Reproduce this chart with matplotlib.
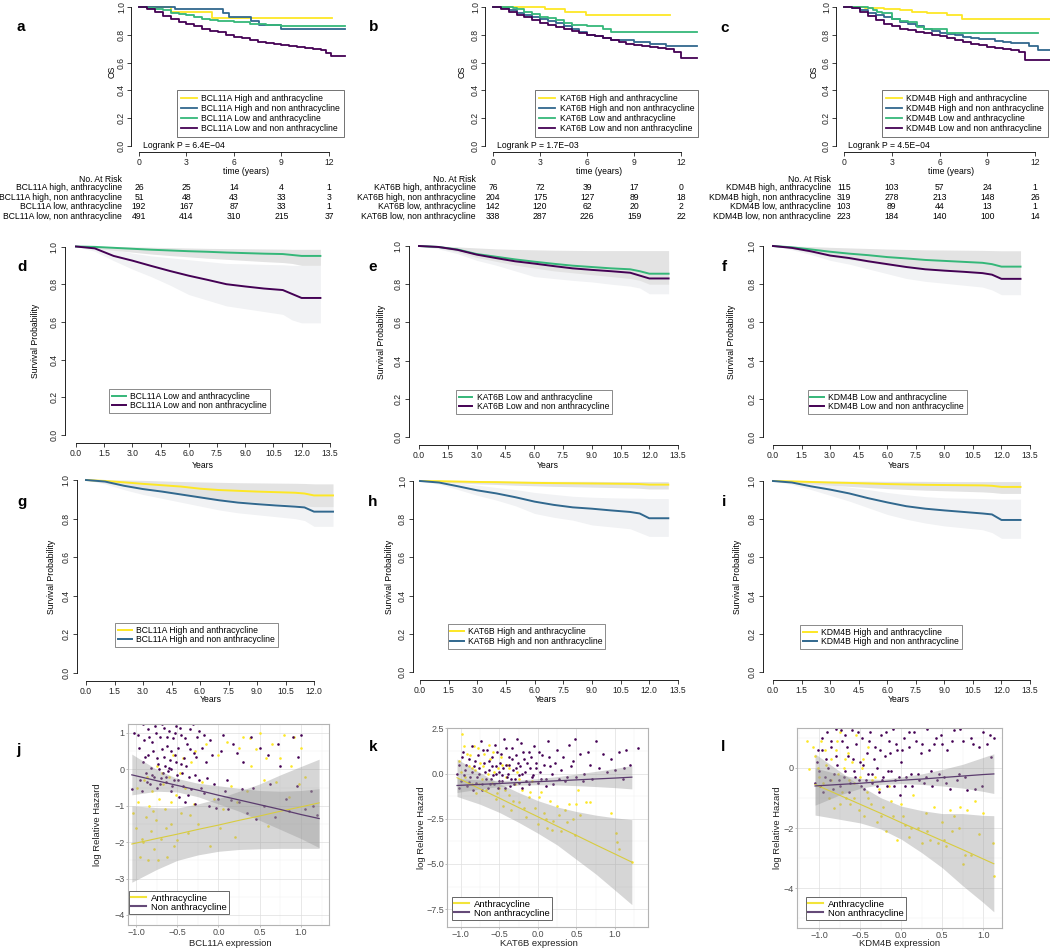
import matplotlib.pyplot as plt
from matplotlib.lines import Line2D
from matplotlib.ticker import AutoMinorLocator
from matplotlib.transforms import blended_transform_factory

plt.rcParams['font.family'] = ['Liberation Sans', 'DejaVu Sans']

W, H = 1050, 948
YEL, BLU, GRN, PUR = '#FDE725', '#31688E', '#35B779', '#440154'

# ---------------- a-c : KM curves, 4 groups per gene (step times, survival)
genes = ['BCL11A', 'KAT6B', 'KDM4B']
logrank_p = ['6.4E\u221204', '1.7E\u221203', '4.5E\u221204']
risk_years = [0, 3, 6, 9, 12]

bcl_hi_anth_t = [0, 2.0, 4.6, 12.2]
bcl_hi_anth_s = [1.0, 0.964, 0.918, 0.918]
bcl_hi_non_t = [0, 2.3, 5.3, 5.7, 7.1, 7.6, 9.0, 13.0]
bcl_hi_non_s = [1.0, 0.985, 0.96, 0.93, 0.90, 0.87, 0.84, 0.84]
bcl_lo_anth_t = [0, 0.5, 1, 1.5, 2, 2.5, 3, 3.5, 4, 4.5, 5, 6, 7, 8, 9, 13]
bcl_lo_anth_s = [1, 0.995, 0.985, 0.975, 0.96, 0.95, 0.94, 0.93, 0.915, 0.905, 0.90, 0.893, 0.878, 0.87, 0.863, 0.863]
bcl_lo_non_t = [0, 0.5, 1, 1.5, 2, 2.5, 3, 3.5, 4, 4.5, 5, 5.5, 6, 6.5, 7, 7.5, 8, 8.5, 9, 9.5, 10, 10.5, 11, 11.5, 11.8, 12.1, 13]
bcl_lo_non_s = [1.0, 0.985, 0.962, 0.935, 0.911, 0.893, 0.877, 0.86, 0.844, 0.83, 0.817, 0.80, 0.786, 0.774,
                0.762, 0.75, 0.738, 0.732, 0.726, 0.718, 0.711, 0.704, 0.697, 0.69, 0.666, 0.645, 0.645]

kat_hi_anth_t = [0, 3.3, 4.6, 5.9, 11.3]
kat_hi_anth_s = [1, 0.985, 0.965, 0.945, 0.945]
kat_hi_non_t = [0, 0.5, 1, 1.5, 2, 2.5, 3, 3.5, 4, 4.5, 5, 5.5, 6, 6.5, 7, 7.5, 8, 9, 10, 11, 13]
kat_hi_non_s = [1, 0.99, 0.975, 0.955, 0.94, 0.925, 0.913, 0.9, 0.885, 0.865, 0.845, 0.82, 0.80, 0.79, 0.775,
                0.765, 0.76, 0.75, 0.735, 0.72, 0.72]
kat_lo_anth_t = [0, 1.3, 1.5, 2, 2.5, 3, 3.5, 4, 4.5, 5, 6, 7, 7.5, 13]
kat_lo_anth_s = [1, 0.995, 0.985, 0.965, 0.95, 0.925, 0.92, 0.91, 0.882, 0.87, 0.865, 0.845, 0.82, 0.82]
kat_lo_non_t = [0, 0.5, 1, 1.5, 2, 2.5, 3, 3.5, 4, 4.5, 5, 5.5, 6, 6.5, 7, 7.5, 8, 8.5, 9, 9.5, 10, 10.5, 11, 11.5, 12, 13]
kat_lo_non_s = [1, 0.985, 0.965, 0.945, 0.925, 0.905, 0.887, 0.87, 0.855, 0.84, 0.825, 0.812, 0.80, 0.788, 0.775,
                0.76, 0.745, 0.735, 0.726, 0.72, 0.71, 0.705, 0.70, 0.675, 0.632, 0.632]

kdm_hi_anth_t = [0, 1.3, 2.5, 3.5, 4.3, 5.2, 6.5, 7.4, 13]
kdm_hi_anth_s = [1, 0.99, 0.985, 0.975, 0.965, 0.955, 0.94, 0.915, 0.915]
kdm_hi_non_t = [0, 0.5, 1, 1.5, 2, 2.5, 3, 3.5, 4, 4.5, 5, 5.5, 6, 6.5, 7, 7.5, 8, 8.5, 9, 9.5, 10, 10.5, 11, 11.6, 12.2, 13]
kdm_hi_non_s = [1, 0.99, 0.975, 0.955, 0.94, 0.925, 0.911, 0.895, 0.88, 0.862, 0.845, 0.83, 0.815, 0.807, 0.80,
                0.785, 0.775, 0.77, 0.767, 0.757, 0.748, 0.742, 0.738, 0.72, 0.69, 0.69]
kdm_lo_anth_t = [0, 1.5, 1.8, 2.1, 2.4, 3.0, 3.5, 4.0, 4.56, 5.0, 6.5, 12.2]
kdm_lo_anth_s = [1, 0.99, 0.975, 0.965, 0.954, 0.911, 0.9, 0.89, 0.858, 0.845, 0.81, 0.81]
kdm_lo_non_t = [0, 0.5, 1, 1.5, 2, 2.5, 3, 3.5, 4, 4.5, 5, 5.5, 6, 6.5, 7, 7.5, 8, 8.5, 9, 9.5, 10, 10.5, 11, 11.4, 13]
kdm_lo_non_s = [1, 0.99, 0.966, 0.935, 0.905, 0.88, 0.86, 0.845, 0.835, 0.82, 0.81, 0.80, 0.79, 0.778, 0.765,
                0.75, 0.735, 0.725, 0.715, 0.708, 0.70, 0.69, 0.678, 0.618, 0.618]

bcl_risk = [[26, 25, 14, 4, 1], [51, 48, 43, 33, 3], [192, 167, 87, 33, 1], [491, 414, 310, 215, 37]]
kat_risk = [[76, 72, 39, 17, 0], [204, 175, 127, 89, 18], [142, 120, 62, 20, 2], [338, 287, 226, 159, 22]]
kdm_risk = [[115, 103, 57, 24, 1], [319, 278, 213, 148, 26], [103, 89, 44, 13, 1], [223, 184, 140, 100, 14]]

# ---------------- d-i : two-group KM curves with confidence bands
km_years = [0, 1, 2, 3, 4, 5, 6, 7, 8, 9, 10, 11, 11.5, 12, 13]

d_anth = [1, 0.998, 0.993, 0.988, 0.983, 0.979, 0.975, 0.972, 0.968, 0.965, 0.962, 0.96, 0.955, 0.95, 0.95]
d_anth_lo = [1, 0.99, 0.98, 0.97, 0.96, 0.952, 0.945, 0.938, 0.932, 0.926, 0.92, 0.915, 0.91, 0.90, 0.90]
d_anth_hi = [1, 1, 1, 0.998, 0.996, 0.994, 0.992, 0.99, 0.989, 0.988, 0.987, 0.986, 0.985, 0.985, 0.985]
d_non = [1, 0.99, 0.95, 0.925, 0.897, 0.87, 0.845, 0.823, 0.80, 0.788, 0.777, 0.769, 0.748, 0.727, 0.727]
d_non_lo = [1, 0.975, 0.925, 0.88, 0.84, 0.795, 0.745, 0.715, 0.685, 0.67, 0.655, 0.64, 0.61, 0.595, 0.595]
d_non_hi = [1, 1, 0.985, 0.965, 0.95, 0.94, 0.93, 0.92, 0.91, 0.908, 0.905, 0.903, 0.90, 0.90, 0.90]

e_anth = [1, 0.995, 0.982, 0.958, 0.944, 0.93, 0.918, 0.907, 0.897, 0.89, 0.883, 0.878, 0.868, 0.855, 0.855]
e_anth_lo = [1, 0.99, 0.97, 0.94, 0.92, 0.9, 0.885, 0.87, 0.86, 0.85, 0.84, 0.83, 0.82, 0.80, 0.80]
e_anth_hi = [1, 1, 0.995, 0.99, 0.985, 0.982, 0.98, 0.978, 0.977, 0.976, 0.976, 0.976, 0.976, 0.976, 0.976]
e_non = [1, 0.995, 0.98, 0.955, 0.937, 0.92, 0.908, 0.895, 0.883, 0.875, 0.868, 0.86, 0.845, 0.83, 0.83]
e_non_lo = [1, 0.985, 0.96, 0.925, 0.9, 0.87, 0.84, 0.83, 0.82, 0.812, 0.80, 0.79, 0.78, 0.75, 0.75]
e_non_hi = [1, 1, 0.995, 0.985, 0.975, 0.965, 0.96, 0.955, 0.95, 0.945, 0.94, 0.935, 0.93, 0.92, 0.92]

f_anth = [1, 0.993, 0.982, 0.97, 0.96, 0.952, 0.942, 0.935, 0.927, 0.922, 0.917, 0.912, 0.905, 0.892, 0.892]
f_anth_lo = [1, 0.985, 0.965, 0.945, 0.93, 0.915, 0.9, 0.89, 0.88, 0.87, 0.865, 0.86, 0.85, 0.835, 0.835]
f_anth_hi = [1, 1, 0.997, 0.993, 0.99, 0.987, 0.984, 0.982, 0.98, 0.979, 0.978, 0.977, 0.976, 0.975, 0.975]
f_non = [1, 0.99, 0.972, 0.95, 0.937, 0.92, 0.905, 0.89, 0.878, 0.871, 0.865, 0.858, 0.85, 0.828, 0.828]
f_non_lo = [1, 0.98, 0.955, 0.925, 0.905, 0.88, 0.855, 0.83, 0.815, 0.805, 0.795, 0.785, 0.77, 0.745, 0.745]
f_non_hi = [1, 1, 0.99, 0.975, 0.965, 0.955, 0.945, 0.935, 0.93, 0.925, 0.92, 0.918, 0.915, 0.91, 0.91]

g_anth = [1, 0.995, 0.988, 0.98, 0.973, 0.966, 0.955, 0.948, 0.944, 0.94, 0.937, 0.934, 0.93, 0.92, 0.92]
g_anth_lo = [1, 0.985, 0.97, 0.955, 0.94, 0.925, 0.91, 0.9, 0.892, 0.885, 0.878, 0.872, 0.866, 0.862, 0.862]
g_anth_hi = [1, 1, 1, 0.998, 0.995, 0.992, 0.99, 0.988, 0.986, 0.985, 0.984, 0.983, 0.982, 0.98, 0.98]
g_non = [1, 0.992, 0.97, 0.953, 0.94, 0.925, 0.91, 0.895, 0.883, 0.875, 0.868, 0.862, 0.858, 0.836, 0.836]
g_non_lo = [1, 0.98, 0.95, 0.925, 0.905, 0.885, 0.865, 0.845, 0.83, 0.82, 0.81, 0.80, 0.79, 0.76, 0.76]
g_non_hi = [1, 1, 0.99, 0.98, 0.972, 0.965, 0.955, 0.945, 0.935, 0.93, 0.925, 0.92, 0.918, 0.91, 0.91]

h_anth = [1, 0.999, 0.997, 0.995, 0.994, 0.992, 0.99, 0.989, 0.988, 0.987, 0.986, 0.985, 0.984, 0.981, 0.981]
h_anth_lo = [1, 0.995, 0.99, 0.985, 0.982, 0.978, 0.975, 0.972, 0.97, 0.968, 0.966, 0.964, 0.962, 0.958, 0.958]
h_anth_hi = [1, 1, 1, 1, 1, 0.999, 0.999, 0.998, 0.998, 0.998, 0.997, 0.997, 0.997, 0.997, 0.997]
h_non = [1, 0.992, 0.972, 0.951, 0.935, 0.915, 0.892, 0.875, 0.862, 0.855, 0.846, 0.838, 0.83, 0.805, 0.805]
h_non_lo = [1, 0.983, 0.955, 0.925, 0.9, 0.87, 0.83, 0.81, 0.795, 0.77, 0.76, 0.75, 0.73, 0.71, 0.71]
h_non_hi = [1, 1, 0.99, 0.978, 0.966, 0.955, 0.94, 0.93, 0.92, 0.915, 0.912, 0.91, 0.91, 0.908, 0.908]

i_anth = [1, 0.998, 0.995, 0.992, 0.99, 0.987, 0.984, 0.982, 0.98, 0.979, 0.978, 0.977, 0.975, 0.969, 0.969]
i_anth_lo = [1, 0.993, 0.985, 0.978, 0.972, 0.966, 0.96, 0.956, 0.952, 0.949, 0.946, 0.943, 0.94, 0.935, 0.935]
i_anth_hi = [1, 1, 1, 1, 0.999, 0.999, 0.998, 0.998, 0.998, 0.997, 0.997, 0.997, 0.997, 0.997, 0.997]
i_non = [1, 0.992, 0.972, 0.955, 0.935, 0.91, 0.888, 0.868, 0.855, 0.846, 0.838, 0.83, 0.825, 0.796, 0.796]
i_non_lo = [1, 0.982, 0.955, 0.925, 0.895, 0.86, 0.825, 0.8, 0.78, 0.765, 0.755, 0.745, 0.73, 0.70, 0.70]
i_non_hi = [1, 1, 0.99, 0.98, 0.968, 0.955, 0.94, 0.928, 0.918, 0.912, 0.91, 0.908, 0.906, 0.905, 0.905]

# ---------------- j-l : log relative hazard vs expression (expression, log hazard)
j_anth = [(-1.03, -1.2), (-1.0, -1.6), (-0.97, -0.9), (-0.95, -2.4), (-0.93, -1.9), (-0.9, -0.3), (-0.88, -1.3),
          (-0.86, -2.5), (-0.84, -1.0), (-0.82, -1.7), (-0.8, -0.6), (-0.78, -2.2), (-0.76, -1.4), (-0.74, 0.1),
          (-0.72, -0.8), (-0.7, -1.9), (-0.67, -0.4), (-0.65, -1.1), (-0.62, -2.4), (-0.6, -0.2), (-0.57, -1.5),
          (-0.55, 0.4), (-0.52, -0.7), (-0.5, -1.95), (-0.47, -0.1), (-0.45, -1.2), (-0.4, -0.5), (-0.37, -1.75),
          (-0.33, 0.2), (-0.3, -0.95), (-0.25, -1.5), (-0.2, -0.35), (-0.15, 0.7), (-0.1, -2.1), (-0.05, -0.8),
          (0.0, 0.4), (0.05, -1.1), (0.1, 0.75), (0.15, -0.45), (0.2, -1.85), (0.25, 0.6), (0.3, 0.9), (0.35, -0.6),
          (0.4, 0.1), (0.45, 0.55), (0.5, 1.0), (0.55, -0.3), (0.6, -1.55), (0.65, 0.7), (0.75, 0.3), (0.85, -0.75),
          (0.92, 0.9), (1.0, 0.6), (1.05, -0.2), (-0.99, -0.5), (-0.91, -2.0), (-0.87, -0.2), (-0.79, -1.15),
          (-0.73, -2.5), (-0.69, -0.1), (-0.63, -1.6), (-0.58, -0.9), (-0.54, -2.1), (-0.43, 0.3), (-0.35, -1.25),
          (-0.28, 0.5), (0.02, -1.6), (0.22, -0.9), (0.38, 0.85), (0.58, 0.3), (0.7, -0.35), (0.8, 0.95),
          (0.88, 0.1), (0.98, -0.4)]
j_non = [(-1.05, -0.55), (-1.02, 1.0), (-0.98, 0.95), (-0.95, -0.3), (-0.92, 0.2), (-0.9, 0.8), (-0.88, -0.1),
         (-0.86, 1.1), (-0.85, 0.4), (-0.83, -0.4), (-0.82, 0.05), (-0.8, 0.75), (-0.78, -0.2), (-0.77, 1.2),
         (-0.75, 0.3), (-0.74, -0.5), (-0.72, 0.0), (-0.71, 0.9), (-0.7, -0.25), (-0.68, 0.55), (-0.67, -0.1),
         (-0.66, 1.15), (-0.65, 0.1), (-0.63, -0.35), (-0.62, 0.65), (-0.61, -0.05), (-0.6, 1.05), (-0.59, 0.25),
         (-0.58, -0.6), (-0.57, 0.0), (-0.55, 0.85), (-0.54, -0.3), (-0.53, 0.4), (-0.52, 1.2), (-0.5, -0.15),
         (-0.49, 0.6), (-0.48, -0.75), (-0.46, 0.15), (-0.45, 0.95), (-0.43, -0.45), (-0.42, 0.3), (-0.4, -0.9),
         (-0.38, 0.7), (-0.36, -0.2), (-0.35, 1.1), (-0.33, -0.55), (-0.3, 0.45), (-0.28, -0.95), (-0.26, 0.9),
         (-0.24, -0.3), (-0.2, 0.6), (-0.18, -0.65), (-0.15, 0.2), (-0.12, -1.0), (-0.1, 0.8), (-0.05, -0.4),
         (0.0, -0.8), (0.03, 0.5), (0.08, -0.6), (0.12, -1.1), (0.18, 0.7), (0.25, -0.9), (0.3, 0.2), (0.35, -1.2),
         (0.42, -0.5), (0.5, 0.6), (0.55, -1.0), (0.6, 0.4), (0.68, -1.3), (0.75, 0.1), (0.82, -0.8), (0.9, 0.9),
         (0.97, 0.35), (1.05, -1.1), (1.12, -0.6), (1.2, -1.25), (-0.96, 0.6), (-0.93, -0.6), (-0.91, 1.25),
         (-0.89, 0.35), (-0.87, -0.35), (-0.84, 0.9), (-0.81, -0.15), (-0.79, 0.5), (-0.76, 1.0), (-0.73, 0.15),
         (-0.71, -0.4), (-0.69, 1.25), (-0.66, 0.35), (-0.64, -0.2), (-0.62, 0.9), (-0.6, 0.05), (-0.58, 0.5),
         (-0.56, -0.45), (-0.53, 1.0), (-0.51, 0.2), (-0.49, -0.3), (-0.47, 1.15), (-0.44, -0.1), (-0.41, 0.85),
         (-0.39, 0.1), (-0.37, -0.7), (-0.34, 0.55), (-0.31, 1.25), (-0.29, -0.15), (-0.27, 0.35), (-0.23, 1.05),
         (-0.21, -0.5), (-0.17, 0.95), (-0.14, -0.25), (-0.08, 0.4), (-0.03, -1.05), (0.05, 0.95), (0.1, -0.3),
         (0.15, -0.85), (0.22, 0.45), (0.28, -0.55), (0.4, 0.9), (0.45, -1.35), (0.62, -0.4), (0.72, 0.7),
         (0.85, -1.15), (0.95, -0.45), (1.0, 0.95), (1.15, -1.0)]
k_anth = [(-1.02, 0.7), (-0.98, 2.2), (-0.96, 1.5), (-0.94, -0.2), (-0.9, 0.4), (-0.88, 1.0), (-0.85, -0.6),
          (-0.82, 0.2), (-0.8, -1.1), (-0.78, 1.4), (-0.75, 0.6), (-0.73, -0.3), (-0.7, 1.1), (-0.68, -0.9),
          (-0.65, 0.0), (-0.62, 0.8), (-0.6, -0.5), (-0.58, 1.2), (-0.55, -1.4), (-0.52, 0.3), (-0.5, -0.8),
          (-0.48, 0.9), (-0.45, -1.8), (-0.42, -0.2), (-0.4, 0.5), (-0.37, -1.2), (-0.35, -2.0), (-0.3, -0.6),
          (-0.27, 0.1), (-0.24, -1.6), (-0.2, -0.9), (-0.16, -2.4), (-0.12, -1.3), (-0.08, -0.4), (-0.04, -1.9),
          (0.0, -2.8), (0.04, -1.0), (0.08, -2.2), (0.12, -3.0), (0.16, -1.5), (0.2, -2.6), (0.25, -1.8),
          (0.3, -3.2), (0.35, -2.0), (0.4, -1.7), (0.45, -2.5), (0.48, -3.4), (0.52, -0.9), (0.55, -2.3),
          (0.62, -1.6), (0.68, -1.6), (0.95, -2.2), (1.02, -3.3), (1.03, -3.8), (1.05, -4.2), (1.22, -4.9),
          (-1.0, 0.1), (-0.92, 1.1), (-0.86, 0.3), (-0.83, 1.5), (-0.76, -0.6), (-0.71, 0.4), (-0.64, 1.6),
          (-0.57, 0.1), (-0.53, -1.1), (-0.47, 0.5), (-0.43, -0.9), (-0.38, 0.3), (-0.32, -1.5), (-0.25, -0.3),
          (-0.18, -1.9), (-0.1, -1.0), (0.02, -1.3), (0.1, -2.5), (0.18, -3.1), (0.28, -2.3), (0.38, -2.7),
          (0.5, -1.7)]
k_non = [(-1.05, 0.0), (-1.02, 0.5), (-1.0, -0.4), (-0.97, 1.2), (-0.95, 0.2), (-0.92, -0.7), (-0.9, 0.8),
         (-0.88, -0.2), (-0.85, 1.5), (-0.83, 0.4), (-0.8, -0.5), (-0.78, 1.0), (-0.76, 0.0), (-0.74, 1.8),
         (-0.72, -0.9), (-0.7, 0.6), (-0.68, -0.3), (-0.66, 1.3), (-0.64, 0.2), (-0.62, -0.6), (-0.6, 0.9),
         (-0.58, -0.1), (-0.56, 1.6), (-0.54, 0.4), (-0.52, -0.8), (-0.5, 0.1), (-0.48, 1.1), (-0.46, -0.4),
         (-0.44, 1.9), (-0.42, 0.5), (-0.4, -0.2), (-0.38, 0.9), (-0.36, -0.7), (-0.34, 1.4), (-0.32, 0.2),
         (-0.3, -0.3), (-0.28, 1.0), (-0.26, 0.6), (-0.24, -0.5), (-0.22, 1.7), (-0.2, 0.0), (-0.18, 0.8),
         (-0.15, -0.4), (-0.12, 1.2), (-0.1, 0.3), (-0.08, -0.2), (-0.05, 1.5), (-0.02, 0.6), (0.0, -0.5),
         (0.03, 0.1), (0.06, 1.0), (0.1, -0.3), (0.13, 1.8), (0.16, 0.4), (0.2, -0.6), (0.25, 1.3), (0.3, 0.2),
         (0.35, -0.4), (0.4, 1.6), (0.45, 0.7), (0.5, -0.2), (0.55, 1.1), (0.6, 0.0), (0.65, 1.2), (0.7, -0.3),
         (0.75, 1.8), (0.8, 0.3), (0.9, 0.1), (1.0, 0.2), (1.05, 1.2), (1.1, -0.3), (1.15, 1.3), (1.2, 0.5),
         (1.3, 1.4), (-1.03, -0.8), (-0.99, 0.9), (-0.96, -0.1), (-0.93, 0.5), (-0.89, -0.45), (-0.86, 0.1),
         (-0.84, -0.9), (-0.81, 0.7), (-0.79, -0.2), (-0.77, 0.3), (-0.73, -0.6), (-0.71, 1.3), (-0.69, 0.1),
         (-0.65, -0.8), (-0.63, 0.7), (-0.61, -0.3), (-0.59, 0.4), (-0.57, -0.6), (-0.55, 0.0), (-0.53, 1.2),
         (-0.51, -0.4), (-0.49, 0.6), (-0.47, -0.1), (-0.45, 0.3), (-0.43, -0.8), (-0.41, 1.4), (-0.39, 0.0),
         (-0.37, 0.5), (-0.35, -0.3), (-0.33, 0.8), (-0.31, -0.6), (-0.29, 0.3), (-0.27, 1.9), (-0.25, -0.1),
         (-0.23, 0.4), (-0.21, -0.8), (-0.19, 1.2), (-0.17, 0.1), (-0.14, 0.6), (-0.11, -0.6), (-0.09, 0.9),
         (-0.06, -0.1), (-0.03, 0.3), (0.01, 1.2), (0.04, -0.3), (0.08, 0.5), (0.11, -0.7), (0.15, 0.9),
         (0.18, 0.0), (0.22, 0.6), (0.28, -0.3), (0.33, 0.9), (0.38, -0.2), (0.43, 0.4), (0.48, 1.9),
         (0.58, -0.4), (0.68, 0.5), (0.85, 1.1), (0.95, 0.8), (1.12, 0.3)]
l_anth = [(-1.15, 0.9), (-1.12, -0.05), (-1.05, 0.4), (-1.02, 0.0), (-0.98, 0.9), (-0.95, -0.5), (-0.92, 0.1),
          (-0.88, -1.0), (-0.85, 0.3), (-0.82, -1.35), (-0.8, 0.6), (-0.77, -0.2), (-0.75, 1.2), (-0.72, -0.8),
          (-0.7, 0.0), (-0.67, -1.0), (-0.65, 0.5), (-0.62, -1.2), (-0.6, 0.2), (-0.57, -0.5), (-0.55, 1.1),
          (-0.52, -1.4), (-0.5, -0.3), (-0.47, 0.3), (-0.45, -1.6), (-0.42, -0.8), (-0.4, 0.7), (-0.37, -1.2),
          (-0.35, -0.4), (-0.3, -1.8), (-0.27, -0.7), (-0.22, -1.3), (-0.18, -2.1), (-0.15, -0.6), (-0.1, -1.6),
          (-0.05, -2.4), (0.0, -1.2), (0.05, -1.9), (0.1, -2.3), (0.15, -0.9), (0.2, -2.0), (0.25, -2.5),
          (0.3, -1.5), (0.35, -2.4), (0.4, -1.3), (0.45, -2.5), (0.5, -1.8), (0.55, -2.6), (0.6, -1.4),
          (0.65, -1.6), (0.7, -2.0), (0.75, -3.2), (0.78, -2.9), (0.8, -1.4), (0.85, -2.9), (0.9, -1.1),
          (0.95, -2.2), (1.0, -1.5), (1.12, -2.5), (1.13, -3.6), (-1.08, 0.7), (-1.0, -0.3), (-0.93, 0.6),
          (-0.86, -0.4), (-0.78, 0.9), (-0.74, -1.2), (-0.68, 0.3), (-0.63, -0.4), (-0.58, -1.0), (-0.48, 0.0),
          (-0.41, -1.0), (-0.32, -0.3), (-0.25, -1.6), (-0.12, -1.1), (0.02, -1.6), (0.12, -2.0), (0.32, -2.1),
          (0.52, -2.4), (0.62, -2.1), (0.72, -1.3)]
l_non = [(-1.05, -0.5), (-1.02, 0.6), (-1.0, -0.1), (-0.97, 1.0), (-0.95, -0.8), (-0.92, 0.3), (-0.9, 1.2),
         (-0.87, -0.4), (-0.85, 0.7), (-0.82, -0.2), (-0.8, 1.3), (-0.78, 0.1), (-0.75, -0.6), (-0.72, 0.9),
         (-0.7, -0.3), (-0.68, 1.1), (-0.65, 0.4), (-0.62, -0.5), (-0.6, 1.25), (-0.58, -0.1), (-0.55, 0.8),
         (-0.52, -0.4), (-0.5, 0.2), (-0.48, 1.0), (-0.45, -0.7), (-0.42, 0.5), (-0.4, -0.2), (-0.38, 1.2),
         (-0.35, -0.5), (-0.32, 0.7), (-0.3, 0.0), (-0.27, -0.8), (-0.25, 1.1), (-0.22, -0.3), (-0.2, 0.4),
         (-0.17, -0.6), (-0.15, 0.9), (-0.12, -0.1), (-0.1, 1.3), (-0.07, -0.4), (-0.05, 0.6), (-0.02, -0.9),
         (0.0, 0.2), (0.03, 1.0), (0.06, -0.3), (0.1, 0.7), (0.13, -0.6), (0.16, 1.2), (0.2, -0.2), (0.24, 0.5),
         (0.28, -0.5), (0.32, 1.3), (0.36, -0.1), (0.4, 0.8), (0.44, -0.4), (0.48, 1.1), (0.52, -0.3), (0.56, 0.6),
         (0.6, -0.7), (0.65, 1.25), (0.7, -0.2), (0.75, 0.9), (0.8, -0.75), (0.85, 1.0), (0.9, -0.7), (0.95, 0.7),
         (1.0, 1.2), (1.05, 0.8), (1.1, 0.35), (1.13, 1.0), (-1.03, 0.2), (-0.99, -0.6), (-0.96, 0.6),
         (-0.93, -0.3), (-0.89, 0.0), (-0.86, 0.9), (-0.83, -0.7), (-0.79, 0.4), (-0.76, -0.4), (-0.73, 1.25),
         (-0.69, -0.1), (-0.66, 0.7), (-0.63, -0.8), (-0.59, 0.3), (-0.56, -0.3), (-0.53, 1.2), (-0.49, -0.6),
         (-0.46, 0.1), (-0.43, -0.4), (-0.39, 0.9), (-0.36, -0.2), (-0.33, 0.3), (-0.29, -0.6), (-0.26, 0.6),
         (-0.23, -0.4), (-0.19, 1.2), (-0.16, -0.1), (-0.13, 0.5), (-0.09, -0.6), (-0.06, 0.8), (-0.03, -0.3),
         (0.01, 0.6), (0.05, -0.6), (0.09, 1.2), (0.12, -0.2), (0.18, 0.9), (0.22, -0.4), (0.26, 0.8),
         (0.3, -0.3), (0.34, 0.6), (0.38, -0.6), (0.42, 1.0), (0.46, -0.2), (0.5, 0.8), (0.55, -0.5),
         (0.62, 0.9), (0.68, -0.4), (0.72, 1.3), (0.78, -0.3), (0.88, 0.8), (0.98, -0.6), (1.08, 1.1)]

# fitted lines and 95% bands
j_fit_x = [-1.05, -0.75, -0.5, -0.25, 0, 0.25, 0.5, 0.75, 1.0, 1.22]
j_anth_fit = [-2.05, -1.90, -1.78, -1.65, -1.53, -1.40, -1.28, -1.15, -1.03, -0.92]
j_anth_lo = [-3.10, -2.75, -2.50, -2.35, -2.25, -2.20, -2.18, -2.17, -2.17, -2.17]
j_anth_hi = [-1.00, -1.05, -1.06, -0.95, -0.80, -0.60, -0.40, -0.15, 0.08, 0.28]
j_non_fit = [-0.15, -0.31, -0.44, -0.57, -0.71, -0.84, -0.97, -1.10, -1.24, -1.35]
j_non_lo = [-0.70, -0.60, -0.62, -0.75, -0.95, -1.15, -1.40, -1.65, -1.90, -2.15]
j_non_hi = [0.42, 0.0, -0.25, -0.38, -0.45, -0.52, -0.58, -0.60, -0.58, -0.53]

k_fit_x = [-1.05, -0.75, -0.5, -0.25, 0, 0.25, 0.5, 0.75, 1.0, 1.22]
k_anth_fit = [-0.23, -0.85, -1.36, -1.88, -2.39, -2.91, -3.42, -3.94, -4.45, -4.90]
k_anth_lo = [-1.27, -1.70, -2.15, -2.70, -3.30, -3.95, -4.75, -5.55, -6.45, -7.25]
k_anth_hi = [0.80, 0.05, -0.55, -1.05, -1.50, -1.85, -2.10, -2.30, -2.45, -2.55]
k_non_fit = [-0.66, -0.60, -0.55, -0.50, -0.45, -0.40, -0.35, -0.30, -0.25, -0.20]
k_non_lo = [-1.05, -0.85, -0.72, -0.64, -0.62, -0.63, -0.67, -0.72, -0.78, -0.85]
k_non_hi = [-0.27, -0.35, -0.38, -0.36, -0.28, -0.17, -0.03, 0.12, 0.28, 0.44]

l_fit_x = [-1.05, -0.75, -0.5, -0.25, 0, 0.25, 0.5, 0.75, 1.0, 1.13]
l_anth_fit = [-0.55, -0.91, -1.21, -1.51, -1.82, -2.12, -2.42, -2.72, -3.03, -3.19]
l_anth_lo = [-1.57, -1.71, -1.83, -2.03, -2.37, -2.82, -3.32, -3.92, -4.48, -4.79]
l_anth_hi = [0.47, -0.11, -0.59, -0.99, -1.27, -1.42, -1.52, -1.52, -1.58, -1.59]
l_non_fit = [-0.60, -0.55, -0.51, -0.46, -0.41, -0.37, -0.32, -0.27, -0.22, -0.20]
l_non_lo = [-1.24, -0.90, -0.68, -0.55, -0.52, -0.55, -0.60, -0.67, -0.78, -0.85]
l_non_hi = [0.0, -0.22, -0.35, -0.38, -0.30, -0.20, -0.05, 0.12, 0.35, 0.47]

fig = plt.figure(figsize=(10.5, 9.48), dpi=100)


def px_axes(left, top, right, bottom):
    ax = fig.add_axes([left / W, 1 - bottom / H, (right - left) / W, (bottom - top) / H])
    return ax, (left, top, right, bottom)


def km_axes(x0, ppx, y1, y0, xlim, ylim=(-0.04, 1.04)):
    ppy = y0 - y1
    return px_axes(x0 + xlim[0] * ppx, y1 - (ylim[1] - 1) * ppy,
                   x0 + xlim[1] * ppx, y0 - ylim[0] * ppy)


def to_axes(rect, px, py):
    return ((px - rect[0]) / (rect[2] - rect[0]), (rect[3] - py) / (rect[3] - rect[1]))


def ftext(px, py, s, **kw):
    fig.text(px / W, 1 - py / H, s, **kw)


def r_style(ax, xlim, xticks, xfmt, ypad=2.0, ylim=(-0.04, 1.04)):
    yticks = [0, 0.2, 0.4, 0.6, 0.8, 1.0]
    ax.set_xlim(xlim)
    ax.set_ylim(ylim)
    for s in ['top', 'right']:
        ax.spines[s].set_visible(False)
    for s in ['left', 'bottom']:
        ax.spines[s].set_linewidth(0.6)
    ax.spines['left'].set_bounds(0, 1)
    ax.spines['bottom'].set_bounds(xticks[0], xticks[-1])
    ax.set_xticks(xticks)
    ax.set_xticklabels([xfmt.format(v) for v in xticks])
    ax.set_yticks(yticks)
    ax.set_yticklabels(['{:.1f}'.format(v) for v in yticks], rotation=90, va='center')
    ax.tick_params(length=2.6, width=0.6, labelsize=6.2, pad=2, colors='#222222')
    ax.tick_params(axis='y', pad=ypad)
    ax.patch.set_alpha(0)


# ---------------- a-c
top_curves = [
    [(bcl_hi_anth_t, bcl_hi_anth_s), (bcl_hi_non_t, bcl_hi_non_s), (bcl_lo_anth_t, bcl_lo_anth_s), (bcl_lo_non_t, bcl_lo_non_s)],
    [(kat_hi_anth_t, kat_hi_anth_s), (kat_hi_non_t, kat_hi_non_s), (kat_lo_anth_t, kat_lo_anth_s), (kat_lo_non_t, kat_lo_non_s)],
    [(kdm_hi_anth_t, kdm_hi_anth_s), (kdm_hi_non_t, kdm_hi_non_s), (kdm_lo_anth_t, kdm_lo_anth_s), (kdm_lo_non_t, kdm_lo_non_s)],
]
top_risk = [bcl_risk, kat_risk, kdm_risk]
top_layout = [  # x of t=0, px per year, legend top-right, label right edge, OS x, letter
    (139, 15.83, (344, 90), 122, 112, (21, 27), 'a'),
    (493, 15.70, (698, 90), 476, 462, (374, 27), 'b'),
    (844, 15.92, (1048, 90), 831, 814, (725, 28), 'c'),
]
cols4 = [YEL, BLU, GRN, PUR]
risk_rows_y = [187.3, 197, 206.7, 216.7]

for gi, gene in enumerate(genes):
    x0, ppx, leg_px, lab_r, os_x, let_px, letter = top_layout[gi]
    ax, rect = km_axes(x0, ppx, 7, 146, (-0.52, 13.52))
    r_style(ax, (-0.52, 13.52), [0, 3, 6, 9, 12], '{:d}', ypad=0.8)
    for (t, s), c in zip(top_curves[gi], cols4):
        ax.step(t, s, where='post', color=c, lw=1.3)
    names = [gene + ' High and anthracycline', gene + ' High and non anthracycline',
             gene + ' Low and anthracycline', gene + ' Low and non anthracycline']
    handles = [Line2D([], [], color=c, lw=1.3) for c in cols4]
    leg = ax.legend(handles, names, loc='upper right', bbox_to_anchor=to_axes(rect, *leg_px),
                    borderaxespad=0, fontsize=6.2, frameon=True, fancybox=False, edgecolor='#333333',
                    handlelength=1.9, handletextpad=0.5, labelspacing=0.12, borderpad=0.45)
    leg.get_frame().set_linewidth(0.6)
    ax.text(0.25, 0.0, 'Logrank P = ' + logrank_p[gi], fontsize=6.2, ha='left', va='center')
    ftext((rect[0] + rect[2]) / 2 + 4, 172, 'time (years)', fontsize=6.2, ha='center', va='center')
    ftext(os_x, 72, 'OS', fontsize=6.2, ha='center', va='center', rotation=90)
    ftext(*let_px, letter, fontsize=11, fontweight='bold', ha='center', va='center')
    # number at risk table
    ftext(lab_r, 179, 'No. At Risk', fontsize=6.2, ha='right', va='center')
    row_names = [gene + ' high, anthracycline', gene + ' high, non anthracycline',
                 gene + ' low, anthracycline', gene + ' low, non anthracycline']
    tr = blended_transform_factory(ax.transData, fig.transFigure)
    for ri, (nm, counts) in enumerate(zip(row_names, top_risk[gi])):
        ftext(lab_r, risk_rows_y[ri], nm, fontsize=6.2, ha='right', va='center')
        for t, n in zip(risk_years, counts):
            ax.text(t, 1 - risk_rows_y[ri] / H, str(n), transform=tr, fontsize=6.2,
                    ha='center', va='center', clip_on=False)

# ---------------- d-i
mid_sets = [
    ('d', 'BCL11A', 'Low', GRN, PUR, (d_anth, d_anth_lo, d_anth_hi), (d_non, d_non_lo, d_non_hi)),
    ('e', 'KAT6B', 'Low', GRN, PUR, (e_anth, e_anth_lo, e_anth_hi), (e_non, e_non_lo, e_non_hi)),
    ('f', 'KDM4B', 'Low', GRN, PUR, (f_anth, f_anth_lo, f_anth_hi), (f_non, f_non_lo, f_non_hi)),
    ('g', 'BCL11A', 'High', YEL, BLU, (g_anth, g_anth_lo, g_anth_hi), (g_non, g_non_lo, g_non_hi)),
    ('h', 'KAT6B', 'High', YEL, BLU, (h_anth, h_anth_lo, h_anth_hi), (h_non, h_non_lo, h_non_hi)),
    ('i', 'KDM4B', 'High', YEL, BLU, (i_anth, i_anth_lo, i_anth_hi), (i_non, i_non_lo, i_non_hi)),
]
ticks_135 = [0, 1.5, 3, 4.5, 6, 7.5, 9, 10.5, 12, 13.5]
mid_layout = [  # x0, ppx, y1, y0, xlim, ticks, legend centre, ylabel x, years (x, y), letter pos
    (76, 18.8, 246.5, 435, (-0.6, 14.04), ticks_135, (189.5, 401), 36, (203, 466), (22, 267)),
    (419, 19.2, 246, 437, (-0.54, 14.04), ticks_135, (534, 402), 382, (548, 466), (373, 267)),
    (773, 19.04, 246, 437, (-0.54, 14.04), ticks_135, (887, 402), 732, (899, 466), (724, 267)),
    (86, 19.0, 480, 673, (-0.5, 13.6), ticks_135[:-1], (196.5, 635), 52, (211, 700), (22, 502)),
    (420, 19.1, 481, 672, (-0.37, 14.04), ticks_135, (526.5, 636.5), 390, (546, 700), (373, 502)),
    (773, 19.04, 481, 672, (-0.54, 14.04), ticks_135, (881, 637), 738, (899, 700), (724, 502)),
]
for (letter, gene, lvl, c1, c2, g1, g2), lay in zip(mid_sets, mid_layout):
    x0, ppx, y1, y0, xlim, xt, leg_c, yl_x, yrs, let_px = lay
    ax, rect = km_axes(x0, ppx, y1, y0, xlim)
    r_style(ax, xlim, xt, '{:.1f}', ypad=1.6)
    ax.fill_between(km_years, g2[1], g2[2], color='#F1F2F4', lw=0, zorder=1)
    ax.fill_between(km_years, g1[1], g1[2], color='#E3E3E3', lw=0, zorder=1.1)
    ax.plot(km_years, g1[0], color=c1, lw=1.4, zorder=3)
    ax.plot(km_years, g2[0], color=c2, lw=1.4, zorder=3)
    handles = [Line2D([], [], color=c1, lw=1.4), Line2D([], [], color=c2, lw=1.4)]
    names = [gene + ' ' + lvl + ' and anthracycline', gene + ' ' + lvl + ' and non anthracycline']
    leg = ax.legend(handles, names, loc='center', bbox_to_anchor=to_axes(rect, *leg_c),
                    borderaxespad=0, fontsize=6.2, frameon=True, fancybox=False, edgecolor='#555555',
                    handlelength=1.6, handletextpad=0.5, labelspacing=0.1, borderpad=0.3)
    leg.get_frame().set_linewidth(0.6)
    ftext(yl_x, (y1 + y0) / 2, 'Survival Probability', fontsize=6.2, ha='center', va='center', rotation=90)
    ftext(*yrs, 'Years', fontsize=6.2, ha='center', va='center')
    ftext(*let_px, letter, fontsize=11, fontweight='bold', ha='center', va='center')

# ---------------- j-l
bot_sets = [
    ('j', 'BCL11A', j_anth, j_non, j_fit_x, (j_anth_fit, j_anth_lo, j_anth_hi), (j_non_fit, j_non_lo, j_non_hi),
     [1, 0, -1, -2, -3, -4]),
    ('k', 'KAT6B', k_anth, k_non, k_fit_x, (k_anth_fit, k_anth_lo, k_anth_hi), (k_non_fit, k_non_lo, k_non_hi),
     [2.5, 0.0, -2.5, -5.0, -7.5]),
    ('l', 'KDM4B', l_anth, l_non, l_fit_x, (l_anth_fit, l_anth_lo, l_anth_hi), (l_non_fit, l_non_lo, l_non_hi),
     [0, -2, -4]),
]
bot_layout = [  # panel rect px, xlim, ylim, legend lower-left px, ylabel x, xlabel x, letter pos
    ((127.7, 724, 329, 925), (-1.10, 1.34), (-4.275, 1.247), (129, 914), 98, 230, (18, 750)),
    ((447, 728, 648, 927), (-1.18, 1.43), (-8.49, 2.52), (452, 920), 422, 539, (373, 747)),
    ((797, 728, 1002, 928), (-1.27, 1.23), (-5.33, 1.33), (806, 920), 777, 900, (723, 747)),
]
for (letter, gene, pa, pn, fx, fa, fn, yt), lay in zip(bot_sets, bot_layout):
    rpx, xlim, ylim, leg_px, yl_x, xl_x, let_px = lay
    ax, rect = px_axes(*rpx)
    ax.set_xlim(xlim)
    ax.set_ylim(ylim)
    ax.set_xticks([-1.0, -0.5, 0.0, 0.5, 1.0])
    ax.set_yticks(yt)
    ax.xaxis.set_minor_locator(AutoMinorLocator(2))
    ax.yaxis.set_minor_locator(AutoMinorLocator(2))
    ax.grid(which='major', color='#DEDEDE', lw=0.5)
    ax.grid(which='minor', color='#EEEEEE', lw=0.3)
    ax.set_axisbelow(True)
    for s in ax.spines.values():
        s.set_color('#B3B3B3')
        s.set_linewidth(0.8)
    ax.tick_params(which='major', length=1.5, width=0.6, color='#B3B3B3', labelsize=6.5,
                   labelcolor='#4D4D4D', pad=0.8)
    ax.tick_params(which='minor', length=0)
    ax.scatter([p[0] for p in pa], [p[1] for p in pa], s=3.5, color=YEL, lw=0, zorder=2)
    ax.scatter([p[0] for p in pn], [p[1] for p in pn], s=3.5, color=PUR, lw=0, zorder=2)
    ax.fill_between(fx, fa[1], fa[2], color='#999999', alpha=0.4, lw=0, zorder=3)
    ax.fill_between(fx, fn[1], fn[2], color='#999999', alpha=0.4, lw=0, zorder=3)
    ax.plot(fx, fa[0], color='#D8CC3E', lw=0.8, zorder=4)
    ax.plot(fx, fn[0], color='#5B3C6E', lw=0.9, zorder=4)
    handles = [Line2D([], [], color='#F2E43A', lw=1.5), Line2D([], [], color='#654A78', lw=1.5)]
    leg = ax.legend(handles, ['Anthracycline', 'Non anthracycline'], loc='lower left',
                    bbox_to_anchor=to_axes(rect, *leg_px), borderaxespad=0, fontsize=6.8,
                    frameon=True, fancybox=False, edgecolor='#666666', framealpha=1,
                    handlelength=1.6, handletextpad=0.5, labelspacing=0.0, borderpad=0.25)
    leg.get_frame().set_linewidth(0.7)
    ftext(yl_x, (rpx[1] + rpx[3]) / 2, 'log Relative Hazard', fontsize=6.8, ha='center', va='center',
          rotation=90, color='#222222')
    ftext(xl_x, 943, gene + ' expression', fontsize=6.8, ha='center', va='center', color='#222222')
    ftext(*let_px, letter, fontsize=11, fontweight='bold', ha='center', va='center')

fig.savefig('out.png', dpi=100)
